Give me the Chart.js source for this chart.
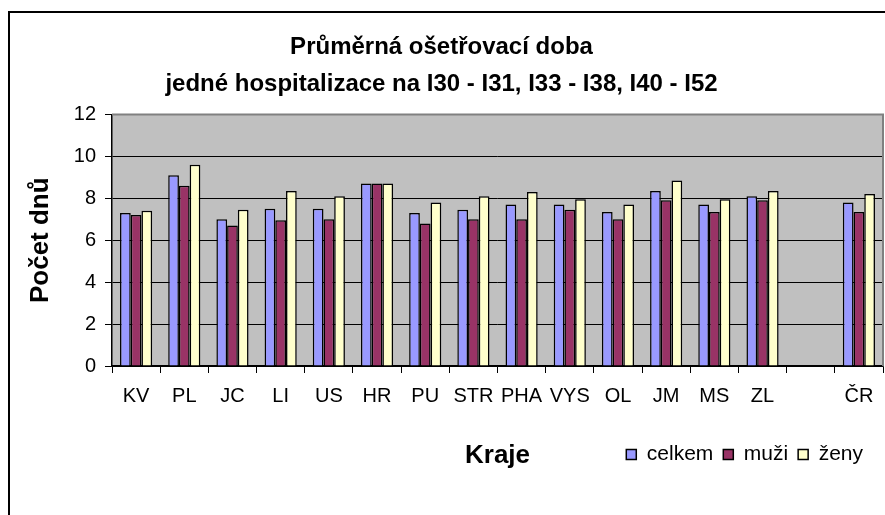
<!DOCTYPE html>
<html>
<head>
<meta charset="utf-8">
<script src="https://cdn.jsdelivr.net/npm/chart.js@4/dist/chart.umd.min.js"></script>
<style>
  html, body { margin: 0; padding: 0; background: #fff; }
  #wrap { width: 885px; height: 515px; }
</style>
</head>
<body>
<div id="wrap"><canvas id="chart" width="885" height="515"></canvas></div>
<script>
// kraje + prázdná mezera před ČR
const regions = ['KV','PL','JC','LI','US','HR','PU','STR','PHA','VYS','OL','JM','MS','ZL','','ČR']
const celkem  = [7.3, 9.1, 7.0, 7.5, 7.5, 8.7, 7.3, 7.45, 7.7, 7.7, 7.35, 8.35, 7.7, 8.1, null, 7.8]
const muzi    = [7.2, 8.6, 6.7, 6.95, 7.0, 8.7, 6.8, 7.0, 7.0, 7.45, 7.0, 7.9, 7.35, 7.9, null, 7.35]
const zeny    = [7.4, 9.6, 7.45, 8.35, 8.1, 8.7, 7.8, 8.1, 8.3, 7.95, 7.7, 8.85, 7.95, 8.35, null, 8.2]
const yTicks  = [0, 2, 4, 6, 8, 10, 12]

const FONT = "'Liberation Sans', Arial, sans-serif"

// white page, outer frame, grey plot area, "Kraje" label
const frame = {
  id: 'frame',
  beforeDraw(chart) {
    const { ctx, chartArea: a } = chart
    ctx.save()
    ctx.fillStyle = '#fff'
    ctx.fillRect(0, 0, chart.width, chart.height)
    ctx.strokeStyle = '#000'
    ctx.lineWidth = 2
    ctx.beginPath()
    ctx.moveTo(9, chart.height)
    ctx.lineTo(9, 12)
    ctx.lineTo(chart.width, 12)
    ctx.stroke()
    ctx.fillStyle = '#c0c0c0'
    ctx.fillRect(a.left, a.top, a.right - a.left, a.bottom - a.top)
    ctx.restore()
  },
  beforeDatasetsDraw(chart) {
    const { ctx, chartArea: a } = chart
    ctx.save()
    ctx.strokeStyle = '#808080'
    ctx.lineWidth = 2
    ctx.beginPath()
    ctx.moveTo(a.left, a.top)
    ctx.lineTo(a.right, a.top)
    ctx.lineTo(a.right, a.bottom)
    ctx.stroke()
    ctx.restore()
  },
  afterLayout(chart) {
    chart.legend.right -= 10
  },
  afterDraw(chart) {
    const { ctx, chartArea: a } = chart
    ctx.save()
    ctx.fillStyle = '#000'
    ctx.font = 'bold 26px ' + FONT
    ctx.textAlign = 'center'
    ctx.textBaseline = 'middle'
    ctx.fillText('Kraje', (a.left + a.right) / 2, 456)
    ctx.restore()
  },
}

new Chart(document.getElementById('chart'), {
  type: 'bar',
  data: {
    labels: regions,
    datasets: [
      { label: 'celkem', data: celkem, backgroundColor: '#9999ff' },
      { label: 'muži',   data: muzi,   backgroundColor: '#993366' },
      { label: 'ženy',   data: zeny,   backgroundColor: '#ffffcc' },
    ].map(ds => ({
      ...ds,
      borderColor: '#000',
      borderWidth: 1.5,
      categoryPercentage: 0.667,
      barPercentage: 1.0,
    })),
  },
  options: {
    responsive: false,
    animation: false,
    layout: { padding: { left: 0, right: 2, top: 0, bottom: 40 } },
    plugins: {
      title: {
        display: true,
        text: ['Průměrná ošetřovací doba', 'jedné hospitalizace na I30 - I31, I33 - I38, I40 - I52'],
        color: '#000',
        font: { family: FONT, size: 24, weight: 'bold', lineHeight: 1.55 },
        padding: { top: 29, bottom: 11 },
      },
      legend: {
        position: 'bottom',
        align: 'end',
        labels: {
          color: '#000',
          font: { family: FONT, size: 21 },
          boxWidth: 10,
          boxHeight: 10,
          padding: 10,
        },
      },
      tooltip: { enabled: false },
    },
    scales: {
      x: {
        offset: true,
        grid: {
          offset: true,
          drawOnChartArea: false,
          drawTicks: true,
          tickLength: 7,
          color: '#000',
        },
        border: { color: '#000', width: 1.5 },
        ticks: {
          color: '#000',
          font: { family: FONT, size: 20 },
          padding: 11,
          maxRotation: 0,
          autoSkip: false,
        },
        afterFit(scale) { scale.height = 68 },
      },
      y: {
        min: 0,
        max: 12,
        afterBuildTicks(scale) { scale.ticks = yTicks.map(v => ({ value: v })) },
        grid: {
          color: ctx => (ctx.tick && ctx.tick.value === 12 ? '#808080' : '#000'),
          tickColor: '#000',
          lineWidth: 1,
          tickLength: 7,
        },
        border: { color: '#000', width: 1.5 },
        ticks: {
          color: '#000',
          font: { family: FONT, size: 20 },
          padding: 9,
        },
        title: {
          display: true,
          text: 'Počet dnů',
          color: '#000',
          font: { family: FONT, size: 26, weight: 'bold' },
          padding: { top: 25, bottom: 0 },
        },
        afterFit(scale) { scale.width = 112 },
      },
    },
  },
  plugins: [frame],
})
</script>
</body>
</html>
